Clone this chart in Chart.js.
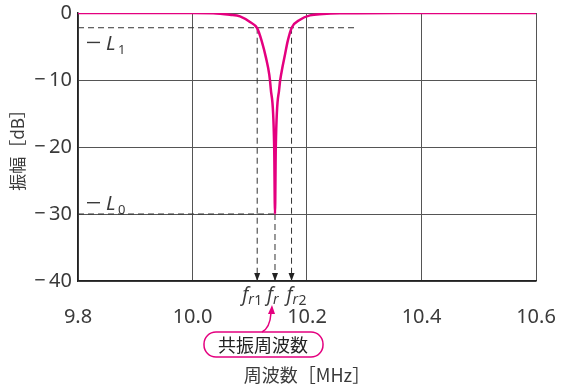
<!DOCTYPE html>
<html>
<head>
<meta charset="utf-8">
<script src="https://cdn.jsdelivr.net/npm/chart.js@4/dist/chart.umd.min.js"></script>
<style>
  html, body { margin: 0; padding: 0; background: #fff; }
</style>
</head>
<body>
<canvas id="myChart" width="563" height="385"></canvas>
<script>
// frequency response
const freq = [9.8, 10.0, 10.036, 10.0655, 10.083, 10.1004, 10.1132, 10.1209, 10.1284, 10.1341, 10.1366,
              10.1427, 10.1441, 10.1455, 10.1516, 10.1558, 10.1616, 10.1663, 10.1733, 10.1878,
              10.2052, 10.2279, 10.2576, 10.362, 10.6];
const gain = [0, 0, -0.02, -0.25, -0.5, -1.35, -2.3, -4.2, -6.7, -9.2, -11.2,
              -20, -30, -20, -11.2, -8.7, -6.2, -4.2, -2.2, -1.0,
              -0.35, -0.15, -0.05, 0, 0];

const xTicks = [9.8, 10.0, 10.2, 10.4, 10.6];
const yTicks = [0, -10, -20, -30, -40];

// marker frequencies and levels
const fr1 = 10.113;
const fr = 10.1441;
const fr2 = 10.173;
const levelL1 = -2.2;
const levelL0 = -30;
const l1End = 10.285;

const PINK = '#E4007F';
const DASH = '#333';
const TXT = '#3a3a3a';
const JP = '"Noto Sans CJK JP", "Noto Sans", sans-serif';
const NUM = '"Noto Sans", "DejaVu Sans", sans-serif';

function dashed(pts) {
    return {
        data: pts,
        borderColor: DASH,
        borderWidth: 1,
        borderDash: [6, 4],
        pointRadius: 0,
        fill: false
    };
}

const extras = {
    id: 'extras',
    afterDraw(chart) {
        const c = chart.ctx;
        const xs = chart.scales.x, ys = chart.scales.y;
        const bottom = ys.getPixelForValue(-40);
        c.save();

        // arrow heads on the dashed drop lines
        c.fillStyle = '#222';
        [fr1, fr, fr2].forEach(f => {
            const px = xs.getPixelForValue(f);
            c.beginPath();
            c.moveTo(px, bottom);
            c.lineTo(px - 3, bottom - 8);
            c.lineTo(px + 3, bottom - 8);
            c.closePath();
            c.fill();
        });

        // -L1 and -L0 labels
        c.fillStyle = TXT;
        c.textBaseline = 'alphabetic';
        function levelLabel(y, sub) {
            c.fillRect(87, y - 8, 13, 1.4);
            c.font = 'italic 20px ' + NUM;
            c.fillText('L', 106, y);
            c.font = '13px ' + NUM;
            c.fillText(sub, 118, y + 4);
        }
        levelLabel(ys.getPixelForValue(levelL1) + 22, '1');
        levelLabel(ys.getPixelForValue(levelL0) - 4, '0');

        // f_r labels under the axis
        function frLabel(f, off, sub) {
            const px = xs.getPixelForValue(f) + off;
            c.font = 'italic 19px ' + NUM;
            c.textAlign = 'left';
            c.fillText('f', px, 301);
            c.font = 'italic 14px ' + NUM;
            c.fillText('r', px + 6, 304);
            if (sub) {
                c.font = '14px ' + NUM;
                c.fillText(sub, px + 12, 305);
            }
        }
        frLabel(fr1, -15, '1');
        frLabel(fr, -8, '');
        frLabel(fr2, -5, '2');

        // callout box
        c.strokeStyle = PINK;
        c.lineWidth = 1.5;
        c.beginPath();
        c.roundRect(204, 332, 119, 25, 12);
        c.stroke();
        c.beginPath();
        c.moveTo(262, 332);
        c.quadraticCurveTo(270, 328, 271, 313);
        c.stroke();
        c.fillStyle = PINK;
        c.beginPath();
        c.moveTo(272, 305);
        c.lineTo(268, 314);
        c.lineTo(275, 314);
        c.closePath();
        c.fill();
        c.fillStyle = '#222';
        c.font = '18px ' + JP;
        c.textAlign = 'center';
        c.textBaseline = 'middle';
        c.fillText('共振周波数', 263, 345);

        // axis titles
        c.fillStyle = TXT;
        c.font = '18px ' + JP;
        c.fillText('周波数［MHz］', 307, 375);
        c.translate(18, 146);
        c.rotate(-Math.PI / 2);
        c.font = '17px ' + JP;
        c.fillText('振幅［dB］', 0, 0);
        c.restore();
    }
};

const ctx = document.getElementById('myChart');
new Chart(ctx, {
    type: 'line',
    data: {
        datasets: [
            {
                data: freq.map((f, i) => ({ x: f, y: gain[i] })),
                borderColor: PINK,
                borderWidth: 2.5,
                pointRadius: 0,
                cubicInterpolationMode: 'monotone',
                fill: false
            },
            dashed([{ x: 9.8, y: levelL1 }, { x: l1End, y: levelL1 }]),
            dashed([{ x: 9.8, y: levelL0 }, { x: fr, y: levelL0 }]),
            dashed([{ x: fr1, y: levelL1 }, { x: fr1, y: -40 }]),
            dashed([{ x: fr, y: levelL0 }, { x: fr, y: -40 }]),
            dashed([{ x: fr2, y: levelL1 }, { x: fr2, y: -40 }])
        ]
    },
    options: {
        responsive: false,
        animation: false,
        layout: { padding: { left: 0, right: 27, top: 13, bottom: 0 } },
        plugins: { legend: { display: false }, tooltip: { enabled: false } },
        scales: {
            x: {
                type: 'linear',
                min: 9.8,
                max: 10.6,
                afterBuildTicks: s => { s.ticks = xTicks.map(v => ({ value: v })); },
                afterFit: s => { s.height = 104; s.paddingLeft = 0; s.paddingRight = 0; },
                grid: { color: '#555', lineWidth: 1, drawTicks: false },
                border: { color: '#222', width: 1.5 },
                ticks: {
                    padding: 24,
                    color: TXT,
                    font: { family: NUM, size: 20 },
                    callback: v => v.toFixed(1)
                }
            },
            y: {
                min: -40,
                max: 0,
                afterBuildTicks: s => { s.ticks = yTicks.map(v => ({ value: v })); },
                afterFit: s => { s.width = 78; s.paddingTop = 0; s.paddingBottom = 0; },
                grid: { color: '#555', lineWidth: 1, drawTicks: false },
                border: { color: '#222', width: 1.5 },
                ticks: {
                    padding: 6,
                    color: TXT,
                    font: { family: NUM, size: 20 },
                    callback: v => v === 0 ? '0' : '\u2212\u2009' + Math.abs(v)
                }
            }
        }
    },
    plugins: [extras]
});
</script>
</body>
</html>
